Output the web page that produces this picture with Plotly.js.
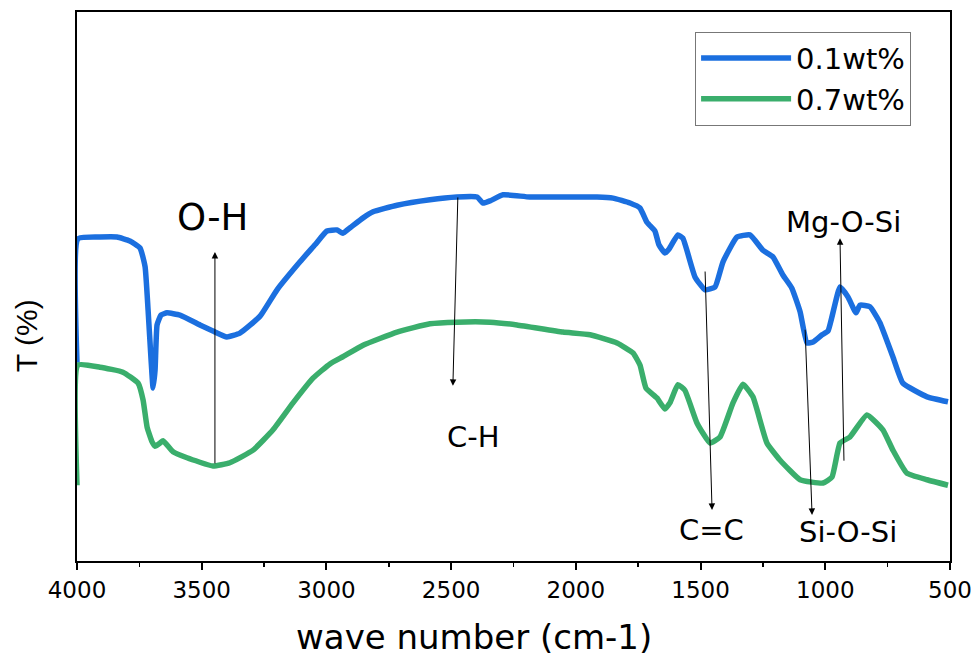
<!DOCTYPE html>
<html>
<head>
<meta charset="utf-8">
<script src="https://cdn.plot.ly/plotly-3.0.1.min.js"></script>
<style>html,body{margin:0;padding:0;background:#fff;}#chart{width:979px;height:659px;}</style>
</head>
<body>
<div id="chart"></div>
<script>
// Wavenumber (cm-1) and transmittance (arbitrary %)
const waveBlue = [4000,3996,3908,3840,3788,3747,3727,3715,3703,3695,3687,3679,3663,3639,3587,3507,3455,3399,3347,3266,3198,3106,3046,2998,2958,2934,2905,2853,2813,2717,2585,2477,2396,2372,2344,2292,2184,1915,1851,1783,1743,1715,1683,1667,1643,1627,1591,1571,1522,1482,1442,1410,1354,1302,1250,1210,1170,1134,1101,1073,1049,1013,989,941,909,877,861,821,781,729,689,592,508];
const tBlue = [36.1,58.7,59.0,59.0,58.3,57.0,53.6,45.7,36.6,31.5,34.8,43.0,44.8,45.2,44.8,43.0,41.9,40.8,41.5,44.6,49.4,54.5,57.6,60.1,60.3,59.7,60.7,62.5,63.6,64.8,65.8,66.3,66.3,65.2,65.6,66.7,66.3,66.3,66.1,65.2,64.3,61.7,60.1,57.6,56.1,56.8,59.4,58.8,51.7,49.4,49.9,54.5,59.0,59.4,56.6,55.4,52.1,49.7,45.4,39.7,39.9,41.2,41.9,49.9,48.1,45.2,46.6,46.3,43.4,37.2,32.4,29.9,29.0];
const waveGreen = [4000,3996,3908,3816,3755,3735,3719,3699,3687,3667,3655,3615,3559,3455,3387,3294,3214,3134,3054,2986,2934,2853,2717,2585,2477,2344,2236,2052,1943,1835,1771,1743,1719,1675,1643,1623,1591,1563,1514,1462,1422,1370,1330,1290,1234,1182,1101,1009,973,941,901,833,769,729,673,592,508];
const tGreen = [13.8,35.7,35.3,34.4,32.4,29.3,24.4,21.7,20.9,21.5,21.9,19.9,18.8,17.3,17.9,20.2,23.9,28.8,33.3,35.9,37.2,39.3,41.7,43.2,43.5,43.5,43.0,41.7,41.2,39.7,37.9,35.7,31.5,29.7,27.7,28.8,32.1,31.1,25.1,21.5,22.6,28.8,32.2,29.9,21.5,18.4,14.8,14.2,15.3,21.5,22.6,26.6,23.9,20.2,16.0,14.8,13.8];
const seriesNames = ["0.1wt%", "0.7wt%"];
const xTickVals = [4000,3500,3000,2500,2000,1500,1000,500];
const xTitle = "wave number (cm-1)";
const yTitle = "T (%)";

// Band labels with arrows
const bandLabels = ["O-H","C-H","C=C","Si-O-Si","Mg-O-Si"];
const arrowTailX = [3447,2473,1482,1081,925];
const arrowTailY = [17.5,66.5,53.0,42.4,18.0];
const arrowHeadX = [3447,2493,1454,1053,941];
const arrowHeadY = [56.3,31.9,9.3,8.4,58.8];
const labelX = [3455,2412,1458,909,929];
const labelY = [62.5,22.6,5.6,5.3,61.7];
const labelSize = [37,29,29,29,29];

const blue = "rgb(27,111,223)";
const green = "rgb(58,174,108)";
const wide = "DejaVu Sans, Verdana, sans-serif";
const arial = "Liberation Sans, Arial, sans-serif";

const traces = [
  {x: waveBlue, y: tBlue, name: seriesNames[0], type: "scatter", mode: "lines",
   line: {color: blue, width: 5.5, shape: "spline", smoothing: 0.4}},
  {x: waveGreen, y: tGreen, name: seriesNames[1], type: "scatter", mode: "lines",
   line: {color: green, width: 5.5, shape: "spline", smoothing: 0.4}}
];

const annotations = [];
for (let i = 0; i < bandLabels.length; i++) {
  annotations.push({
    x: arrowHeadX[i], y: arrowHeadY[i], xref: "x", yref: "y",
    ax: arrowTailX[i], ay: arrowTailY[i], axref: "x", ayref: "y",
    text: "", showarrow: true, arrowhead: 2, arrowsize: 1.3, arrowwidth: 1, arrowcolor: "#000"
  });
  annotations.push({
    x: labelX[i], y: labelY[i], xref: "x", yref: "y", text: bandLabels[i],
    showarrow: false, font: {family: wide, size: labelSize[i], color: "#000"},
    xanchor: "center", yanchor: "middle"
  });
}
// Axis titles (placed off-centre as in the original figure)
annotations.push({
  x: 0.455, y: -0.138, xref: "paper", yref: "paper", text: xTitle, showarrow: false,
  xanchor: "center", yanchor: "middle", font: {family: wide, size: 34, color: "#000"}
});
annotations.push({
  x: -0.057, y: 0.41, xref: "paper", yref: "paper", text: yTitle, showarrow: false,
  textangle: -90, xanchor: "center", yanchor: "middle", font: {family: arial, size: 30, color: "#000"}
});

const layout = {
  width: 979, height: 659,
  margin: {l: 77, r: 29, t: 12, b: 98},
  paper_bgcolor: "#fff", plot_bgcolor: "#fff",
  font: {family: wide, color: "#000"},
  showlegend: true,
  legend: {x: 0.708, y: 0.964, xanchor: "left", yanchor: "top",
           bordercolor: "#777", borderwidth: 1, bgcolor: "#fff", itemwidth: 90,
           font: {family: wide, size: 29, color: "#000"}, tracegroupgap: 0},
  xaxis: {
    range: [4000, 500], tickvals: xTickVals, ticktext: xTickVals.map(String),
    ticks: "outside", ticklen: 7, tickwidth: 2, tickcolor: "#000",
    minor: {dtick: 250, tick0: 500, ticks: "outside", ticklen: 4, tickwidth: 1.5, tickcolor: "#000", showgrid: false},
    showline: true, linecolor: "#000", linewidth: 2, mirror: true,
    showgrid: false, zeroline: false,
    tickfont: {family: wide, size: 23, color: "#000"}
  },
  yaxis: {
    range: [0, 100], showticklabels: false, ticks: "",
    showline: true, linecolor: "#000", linewidth: 2, mirror: true,
    showgrid: false, zeroline: false
  },
  annotations: annotations
};

Plotly.newPlot("chart", traces, layout, {displayModeBar: false, staticPlot: true});
</script>
</body>
</html>
